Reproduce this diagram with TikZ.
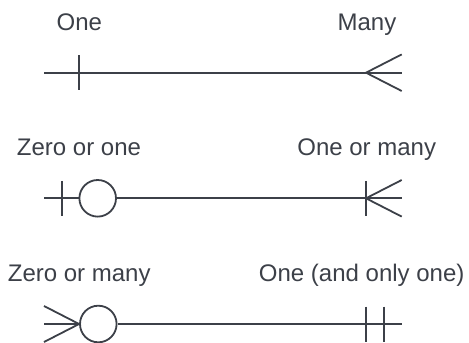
\documentclass[tikz,border=0pt]{standalone}
\usepackage{fontspec}
\setmainfont{Liberation Sans}
\usetikzlibrary{calc}
\definecolor{ink}{RGB}{60,64,72}

\begin{document}
\begin{tikzpicture}[x=1pt, y=-1pt, line width=1.8pt,
    card/.style={font=\fontsize{24}{28}\selectfont, text=ink, anchor=base, inner sep=0pt},
    ring/.style={circle, draw=ink, fill=white, minimum size=36.6pt, inner sep=0pt}]
    \useasboundingbox (0,0) rectangle (469,343);

    % one -- many
    \coordinate (L1) at (44,72.7);
    \coordinate (R1) at (401.7,72.7);
    \node[card] (one) at (79.3,30.7) {One};
    \node[card] (many) at (367,30.7) {Many};
    \draw[ink] (L1) -- (R1);
    \draw[ink] ($(L1)+(35.3,-17.5)$) -- ++(0,35);
    \draw[ink] ($(R1)+(0,-18.3)$) -- ($(R1)+(-35.7,0)$) -- ($(R1)+(0,18.3)$);

    % zero or one -- one or many
    \coordinate (L2) at (44,198.3);
    \coordinate (R2) at (401.7,198.3);
    \node[card] (zeroone) at (79,155.5) {Zero or one};
    \node[card] (onemany) at (366.7,155.5) {One or many};
    \node[ring] (o2) at (97.7,198.3) {};
    \draw[ink] (L2) -- (o2) -- (R2);
    \draw[ink] ($(L2)+(17.7,-17.5)$) -- ++(0,35);
    \draw[ink] ($(R2)+(-35.7,-17.5)$) -- ++(0,35);
    \draw[ink] ($(R2)+(0,-18.3)$) -- ($(R2)+(-35.7,0)$) -- ($(R2)+(0,18.3)$);

    % zero or many -- one and only one
    \coordinate (L3) at (44,324);
    \coordinate (R3) at (401.7,324);
    \node[card] (zeromany) at (79.2,281.7) {Zero or many};
    \node[card] (onlyone) at (361.7,281.7) {One (and only one)};
    \node[ring] (o3) at (98.3,324) {};
    \draw[ink] (L3) -- (o3) -- (R3);
    \draw[ink] ($(L3)+(0,-18)$) -- (o3.west) -- ($(L3)+(0,18)$);
    \draw[ink] ($(R3)+(-36,-17.5)$) -- ++(0,35);
    \draw[ink] ($(R3)+(-17.4,-17.5)$) -- ++(0,35);
\end{tikzpicture}
\end{document}
